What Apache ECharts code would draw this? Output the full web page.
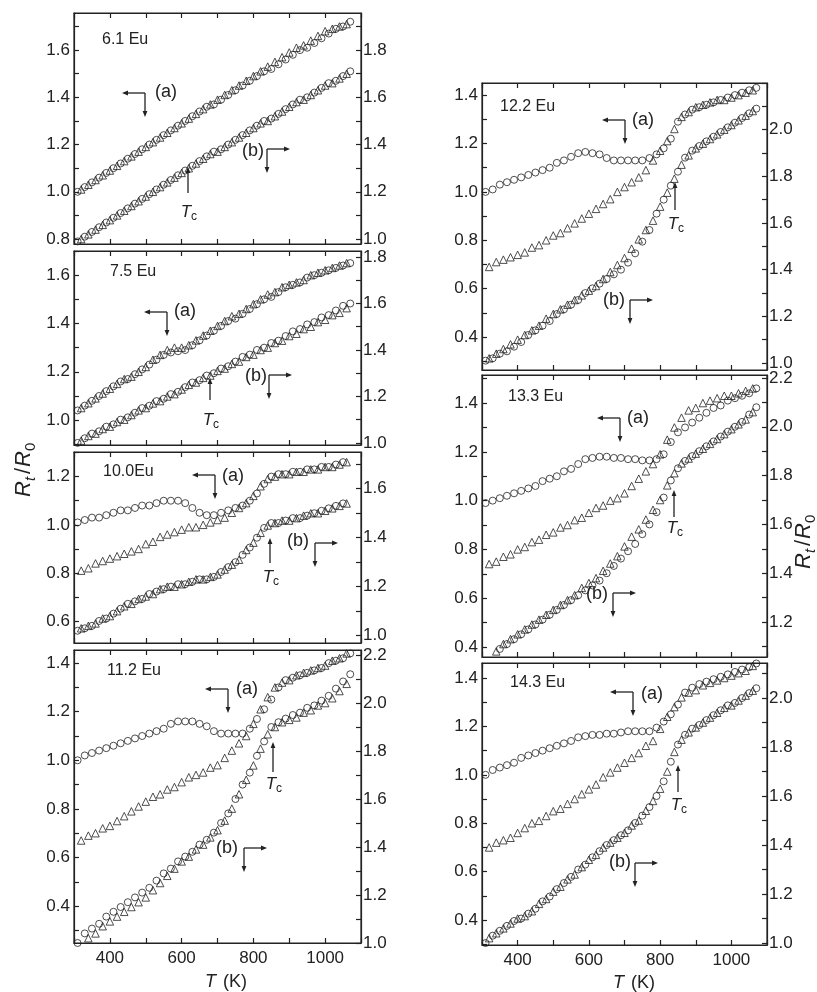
<!DOCTYPE html>
<html>
<head>
<meta charset="utf-8">
<script src="https://cdn.jsdelivr.net/npm/echarts@6.0.0/dist/echarts.min.js"></script>
<style>
  html, body { margin: 0; padding: 0; background: #fff; }
  #chart { width: 817px; height: 992px; }
</style>
</head>
<body>
<div id="chart"></div>
<script>
// Temperatures (K) of the circle and triangle readings
const T_CIRC = [310, 330, 350, 370, 390, 410, 430, 450, 470, 490, 510, 530, 550, 570, 590, 610, 630, 650, 670, 690,
  710, 730, 750, 770, 790, 810, 830, 850, 870, 890, 910, 930, 950, 970, 990, 1010, 1030, 1050, 1070];
const T_TRI = [320, 340, 360, 380, 400, 420, 440, 460, 480, 500, 520, 540, 560, 580, 600, 620, 640, 660, 680, 700,
  720, 740, 760, 780, 800, 820, 840, 860, 880, 900, 920, 940, 960, 980, 1000, 1020, 1040, 1060];

const X_TICKS = [300, 400, 500, 600, 700, 800, 900, 1000, 1100];
const X_LABELS = [400, 600, 800, 1000];

// 6.1 Eu
const P1_A_CIRC = [1.00, 1.02, 1.04, 1.06, 1.08, 1.10, 1.12, 1.14, 1.16, 1.18, 1.20, 1.22, 1.24, 1.26, 1.28, 1.30, 1.32, 1.34, 1.36, 1.37,
  1.39, 1.41, 1.43, 1.45, 1.47, 1.49, 1.51, 1.52, 1.54, 1.56, 1.58, 1.60, 1.61, 1.63, 1.65, 1.67, 1.69, 1.70, 1.72];
const P1_A_TRI = [1.01, 1.03, 1.05, 1.07, 1.09, 1.11, 1.13, 1.15, 1.17, 1.19, 1.21, 1.23, 1.25, 1.27, 1.29, 1.31, 1.33, 1.35, 1.37, 1.39,
  1.41, 1.43, 1.45, 1.47, 1.49, 1.51, 1.53, 1.55, 1.57, 1.59, 1.61, 1.62, 1.64, 1.66, 1.68, 1.69, 1.70, 1.71];
const P1_B_CIRC = [0.99, 1.01, 1.03, 1.05, 1.07, 1.09, 1.11, 1.13, 1.15, 1.17, 1.19, 1.21, 1.23, 1.25, 1.27, 1.29, 1.31, 1.33, 1.35, 1.37,
  1.38, 1.40, 1.42, 1.44, 1.46, 1.48, 1.50, 1.51, 1.53, 1.55, 1.57, 1.59, 1.60, 1.62, 1.64, 1.66, 1.67, 1.69, 1.71];
const P1_B_TRI = [1.00, 1.02, 1.04, 1.06, 1.08, 1.10, 1.12, 1.14, 1.16, 1.18, 1.20, 1.22, 1.24, 1.26, 1.28, 1.30, 1.32, 1.34, 1.36, 1.37,
  1.39, 1.41, 1.43, 1.45, 1.47, 1.49, 1.50, 1.52, 1.54, 1.56, 1.58, 1.59, 1.61, 1.63, 1.65, 1.66, 1.68, 1.70];

// 7.5 Eu
const P2_A_CIRC = [1.04, 1.06, 1.08, 1.10, 1.12, 1.14, 1.16, 1.17, 1.19, 1.21, 1.23, 1.25, 1.27, 1.28, 1.285, 1.29, 1.31, 1.33, 1.35, 1.37,
  1.39, 1.41, 1.42, 1.44, 1.46, 1.48, 1.50, 1.51, 1.53, 1.55, 1.56, 1.57, 1.59, 1.60, 1.61, 1.62, 1.63, 1.64, 1.65];
const P2_A_TRI = [1.05, 1.07, 1.09, 1.11, 1.13, 1.15, 1.17, 1.18, 1.20, 1.22, 1.25, 1.27, 1.29, 1.30, 1.30, 1.31, 1.33, 1.35, 1.37, 1.39,
  1.41, 1.43, 1.44, 1.46, 1.48, 1.50, 1.52, 1.53, 1.55, 1.56, 1.57, 1.58, 1.60, 1.61, 1.62, 1.63, 1.64, 1.65];
const P2_B_CIRC = [1.00, 1.02, 1.04, 1.05, 1.07, 1.08, 1.10, 1.11, 1.13, 1.15, 1.16, 1.18, 1.19, 1.21, 1.22, 1.24, 1.26, 1.27, 1.29, 1.30,
  1.32, 1.33, 1.35, 1.37, 1.38, 1.40, 1.41, 1.43, 1.44, 1.46, 1.48, 1.49, 1.51, 1.52, 1.54, 1.55, 1.57, 1.59, 1.60];
const P2_B_TRI = [1.01, 1.03, 1.04, 1.06, 1.07, 1.09, 1.10, 1.12, 1.14, 1.15, 1.17, 1.18, 1.20, 1.21, 1.23, 1.25, 1.26, 1.28, 1.29, 1.31,
  1.32, 1.34, 1.35, 1.37, 1.38, 1.40, 1.41, 1.43, 1.44, 1.46, 1.47, 1.49, 1.50, 1.52, 1.53, 1.55, 1.56, 1.58];

// 10.0 Eu
const P3_A_CIRC = [1.01, 1.02, 1.03, 1.03, 1.04, 1.05, 1.06, 1.06, 1.07, 1.08, 1.08, 1.09, 1.10, 1.10, 1.10, 1.09, 1.07, 1.05, 1.04, 1.04,
  1.05, 1.06, 1.07, 1.08, 1.10, 1.13, 1.17, 1.20, 1.21, 1.21, 1.22, 1.22, 1.23, 1.23, 1.24, 1.24, 1.25, 1.26, null];
const P3_A_TRI = [0.81, 0.82, 0.84, 0.85, 0.86, 0.87, 0.88, 0.89, 0.90, 0.92, 0.93, 0.95, 0.96, 0.97, 0.98, 0.99, 0.99, 1.00, 1.01, 1.02,
  1.03, 1.05, 1.07, 1.09, 1.12, 1.16, 1.19, 1.20, 1.21, 1.21, 1.22, 1.22, 1.23, 1.23, 1.24, 1.24, 1.25, 1.26];
const P3_B_CIRC = [1.02, 1.03, 1.04, 1.06, 1.07, 1.09, 1.11, 1.13, 1.14, 1.15, 1.17, 1.18, 1.19, 1.20, 1.21, 1.21, 1.22, 1.23, 1.23, 1.24,
  1.26, 1.28, 1.30, 1.33, 1.36, 1.40, 1.44, 1.46, 1.46, 1.47, 1.48, 1.48, 1.49, 1.50, 1.51, 1.52, 1.53, 1.54, null];
const P3_B_TRI = [1.03, 1.04, 1.05, 1.07, 1.08, 1.10, 1.12, 1.13, 1.15, 1.16, 1.17, 1.19, 1.20, 1.20, 1.21, 1.22, 1.23, 1.23, 1.24, 1.25,
  1.27, 1.29, 1.31, 1.35, 1.38, 1.42, 1.45, 1.46, 1.47, 1.47, 1.48, 1.49, 1.50, 1.50, 1.51, 1.52, 1.53, 1.54];

// 11.2 Eu
const P4_A_CIRC = [1.00, 1.02, 1.03, 1.04, 1.05, 1.06, 1.07, 1.08, 1.09, 1.10, 1.11, 1.12, 1.13, 1.15, 1.16, 1.16, 1.16, 1.15, 1.14, 1.12,
  1.11, 1.11, 1.11, 1.11, 1.13, 1.17, 1.21, 1.25, 1.30, 1.33, 1.34, 1.35, 1.36, 1.37, 1.38, 1.40, 1.41, 1.42, 1.44];
const P4_A_TRI = [0.67, 0.69, 0.70, 0.72, 0.73, 0.75, 0.77, 0.79, 0.81, 0.83, 0.85, 0.86, 0.88, 0.89, 0.91, 0.93, 0.94, 0.95, 0.97, 0.98,
  1.01, 1.04, 1.07, 1.10, 1.15, 1.21, 1.26, 1.30, 1.32, 1.33, 1.35, 1.36, 1.37, 1.38, 1.39, 1.41, 1.42, 1.44];
const P4_B_CIRC = [1.00, 1.04, 1.06, 1.08, 1.11, 1.13, 1.15, 1.17, 1.19, 1.21, 1.23, 1.26, 1.29, 1.31, 1.34, 1.36, 1.38, 1.41, 1.43, 1.46,
  1.50, 1.54, 1.60, 1.66, 1.71, 1.78, 1.84, 1.90, 1.92, 1.935, 1.95, 1.96, 1.98, 1.99, 2.01, 2.03, 2.06, 2.09, 2.12];
const P4_B_TRI = [0.99, 1.02, 1.04, 1.07, 1.09, 1.11, 1.13, 1.15, 1.17, 1.19, 1.22, 1.25, 1.28, 1.31, 1.34, 1.36, 1.39, 1.41, 1.44, 1.47,
  1.51, 1.56, 1.62, 1.68, 1.74, 1.81, 1.87, 1.90, 1.92, 1.93, 1.94, 1.96, 1.97, 1.99, 2.00, 2.02, 2.05, 2.08];

// 12.2 Eu
const P5_A_CIRC = [1.00, 1.01, 1.03, 1.04, 1.05, 1.06, 1.07, 1.08, 1.09, 1.10, 1.12, 1.13, 1.145, 1.16, 1.165, 1.16, 1.155, 1.14, 1.13, 1.13,
  1.13, 1.13, 1.13, 1.14, 1.155, 1.18, 1.22, 1.29, 1.32, 1.34, 1.35, 1.36, 1.37, 1.38, 1.39, 1.40, 1.41, 1.42, 1.43];
const P5_A_TRI = [0.69, 0.71, 0.72, 0.73, 0.74, 0.75, 0.77, 0.78, 0.80, 0.82, 0.83, 0.85, 0.87, 0.89, 0.91, 0.93, 0.95, 0.97, 1.00, 1.02,
  1.04, 1.06, 1.09, 1.13, 1.17, 1.21, 1.26, 1.31, 1.33, 1.35, 1.36, 1.37, 1.38, 1.38, 1.39, 1.40, 1.41, 1.42];
const P5_B_CIRC = [1.01, 1.02, 1.04, 1.05, 1.07, 1.09, 1.12, 1.14, 1.16, 1.18, 1.21, 1.23, 1.25, 1.27, 1.30, 1.32, 1.34, 1.36, 1.38, 1.40,
  1.43, 1.47, 1.52, 1.57, 1.64, 1.70, 1.76, 1.82, 1.88, 1.91, 1.93, 1.95, 1.97, 1.99, 2.01, 2.03, 2.05, 2.07, 2.09];
const P5_B_TRI = [1.02, 1.04, 1.06, 1.08, 1.10, 1.12, 1.14, 1.16, 1.19, 1.21, 1.23, 1.25, 1.27, 1.29, 1.31, 1.33, 1.36, 1.39, 1.42, 1.45,
  1.49, 1.53, 1.57, 1.61, 1.67, 1.73, 1.79, 1.85, 1.89, 1.92, 1.94, 1.96, 1.98, 2.00, 2.02, 2.04, 2.06, 2.08];

// 13.3 Eu
const P6_A_CIRC = [0.99, 1.00, 1.01, 1.02, 1.03, 1.04, 1.05, 1.06, 1.08, 1.09, 1.10, 1.12, 1.13, 1.15, 1.17, 1.175, 1.18, 1.18, 1.175, 1.175,
  1.17, 1.17, 1.165, 1.165, 1.17, 1.19, 1.24, 1.28, 1.30, 1.32, 1.34, 1.36, 1.38, 1.39, 1.41, 1.42, 1.43, 1.44, 1.46];
const P6_A_TRI = [0.74, 0.75, 0.77, 0.78, 0.80, 0.81, 0.83, 0.84, 0.86, 0.87, 0.89, 0.90, 0.92, 0.93, 0.95, 0.97, 0.98, 1.00, 1.01, 1.03,
  1.06, 1.09, 1.12, 1.15, 1.19, 1.25, 1.30, 1.34, 1.37, 1.38, 1.40, 1.41, 1.42, 1.43, 1.43, 1.44, 1.45, 1.46];
const P6_B_CIRC = [1.01, 1.05, 1.09, 1.11, 1.13, 1.15, 1.17, 1.19, 1.21, 1.23, 1.25, 1.27, 1.29, 1.31, 1.33, 1.35, 1.37, 1.40, 1.43, 1.46,
  1.49, 1.52, 1.56, 1.60, 1.65, 1.71, 1.78, 1.83, 1.86, 1.88, 1.90, 1.92, 1.94, 1.96, 1.98, 2.00, 2.02, 2.05, 2.08];
const P6_B_TRI = [1.04, 1.08, 1.11, 1.13, 1.15, 1.17, 1.19, 1.21, 1.23, 1.25, 1.27, 1.29, 1.31, 1.34, 1.36, 1.38, 1.41, 1.44, 1.47, 1.51,
  1.55, 1.58, 1.62, 1.66, 1.70, 1.76, 1.81, 1.85, 1.87, 1.89, 1.91, 1.93, 1.95, 1.97, 1.99, 2.01, 2.03, 2.06];

// 14.3 Eu
const P7_A_CIRC = [1.00, 1.02, 1.03, 1.04, 1.05, 1.07, 1.08, 1.09, 1.10, 1.11, 1.12, 1.13, 1.14, 1.155, 1.16, 1.165, 1.165, 1.17, 1.17, 1.175,
  1.18, 1.18, 1.18, 1.18, 1.195, 1.22, 1.25, 1.29, 1.34, 1.36, 1.375, 1.385, 1.395, 1.405, 1.415, 1.425, 1.435, 1.445, 1.46];
const P7_A_TRI = [0.70, 0.72, 0.73, 0.74, 0.76, 0.78, 0.80, 0.81, 0.83, 0.85, 0.86, 0.88, 0.90, 0.92, 0.94, 0.96, 0.99, 1.01, 1.03, 1.05,
  1.07, 1.09, 1.12, 1.14, 1.19, 1.24, 1.28, 1.32, 1.34, 1.35, 1.37, 1.38, 1.39, 1.40, 1.41, 1.42, 1.43, 1.45];
const P7_B_CIRC = [1.00, 1.03, 1.05, 1.07, 1.09, 1.10, 1.12, 1.14, 1.17, 1.19, 1.22, 1.245, 1.27, 1.30, 1.32, 1.35, 1.375, 1.40, 1.42, 1.44,
  1.46, 1.49, 1.52, 1.555, 1.60, 1.66, 1.74, 1.81, 1.85, 1.875, 1.89, 1.91, 1.93, 1.95, 1.97, 1.98, 2.00, 2.02, 2.04];
const P7_B_TRI = [1.02, 1.04, 1.06, 1.08, 1.10, 1.11, 1.13, 1.16, 1.18, 1.21, 1.23, 1.26, 1.28, 1.31, 1.34, 1.36, 1.39, 1.41, 1.43, 1.45,
  1.48, 1.50, 1.54, 1.58, 1.63, 1.70, 1.78, 1.83, 1.86, 1.88, 1.90, 1.92, 1.94, 1.96, 1.97, 1.99, 2.01, 2.03];

// y tick labels, left (a) and right (b) axes
const P1_YL = [0.8, 1.0, 1.2, 1.4, 1.6], P1_YR = [1.0, 1.2, 1.4, 1.6, 1.8];
const P2_YL = [1.0, 1.2, 1.4, 1.6], P2_YR = [1.0, 1.2, 1.4, 1.6, 1.8];
const P3_YL = [0.6, 0.8, 1.0, 1.2], P3_YR = [1.0, 1.2, 1.4, 1.6];
const P4_YL = [0.4, 0.6, 0.8, 1.0, 1.2, 1.4], P4_YR = [1.0, 1.2, 1.4, 1.6, 1.8, 2.0, 2.2];
const P5_YL = [0.4, 0.6, 0.8, 1.0, 1.2, 1.4], P5_YR = [1.0, 1.2, 1.4, 1.6, 1.8, 2.0];
const P6_YL = [0.4, 0.6, 0.8, 1.0, 1.2, 1.4], P6_YR = [1.2, 1.4, 1.6, 1.8, 2.0, 2.2];
const P7_YL = [0.4, 0.6, 0.8, 1.0, 1.2, 1.4], P7_YR = [1.0, 1.2, 1.4, 1.6, 1.8, 2.0];

const INK = '#222';
const FONT = '"Liberation Sans", Arial, sans-serif';

const panels = [
  { name: '6.1 Eu', box: [74, 13, 287, 231], yl: [0.779, 1.757], yr: [0.979, 1.957], ll: P1_YL, lr: P1_YR, xl: false,
    data: [P1_A_CIRC, P1_A_TRI, P1_B_CIRC, P1_B_TRI] },
  { name: '7.5 Eu', box: [74, 251, 287, 194], yl: [0.897, 1.70], yr: [0.991, 1.826], ll: P2_YL, lr: P2_YR, xl: false,
    data: [P2_A_CIRC, P2_A_TRI, P2_B_CIRC, P2_B_TRI] },
  { name: '10.0Eu', box: [74, 452, 287, 191], yl: [0.51, 1.302], yr: [0.97, 1.75], ll: P3_YL, lr: P3_YR, xl: false,
    data: [P3_A_CIRC, P3_A_TRI, P3_B_CIRC, P3_B_TRI] },
  { name: '11.2 Eu', box: [74, 650, 287, 293], yl: [0.248, 1.454], yr: [1.0, 2.221], ll: P4_YL, lr: P4_YR, xl: true,
    data: [P4_A_CIRC, P4_A_TRI, P4_B_CIRC, P4_B_TRI] },
  { name: '12.2 Eu', box: [482, 83, 285, 287], yl: [0.264, 1.45], yr: [0.97, 2.2], ll: P5_YL, lr: P5_YR, xl: false,
    data: [P5_A_CIRC, P5_A_TRI, P5_B_CIRC, P5_B_TRI] },
  { name: '13.3 Eu', box: [482, 375, 285, 282], yl: [0.359, 1.515], yr: [1.057, 2.212], ll: P6_YL, lr: P6_YR, xl: false,
    data: [P6_A_CIRC, P6_A_TRI, P6_B_CIRC, P6_B_TRI] },
  { name: '14.3 Eu', box: [482, 663, 285, 282], yl: [0.297, 1.462], yr: [0.992, 2.143], ll: P7_YL, lr: P7_YR, xl: true,
    data: [P7_A_CIRC, P7_A_TRI, P7_B_CIRC, P7_B_TRI] }
];

// annotation placement (pixels): panel tag, (a) key corner + label, (b) key corner + label, Tc arrow
const TAGS = [[102, 40], [110, 272], [103, 472], [107, 671], [500, 107], [508, 397], [510, 683]];
const A_KEYS = [[145, 93, 166, 92], [167, 312, 185, 311], [215, 475, 233, 476], [228, 689, 247, 689],
  [625, 120, 643, 120], [620, 418, 638, 418], [633, 692, 652, 694]];
const B_KEYS = [[267, 149, 253, 151], [269, 375, 256, 376], [315, 543, 298, 541], [244, 848, 227, 848],
  [630, 300, 614, 300], [613, 593, 597, 594], [635, 863, 620, 862]];
const TC_MARKS = [[188, 193, 167, 212], [210, 400, 378, 420], [270, 563, 538, 577], [273, 772, 742, 784],
  [675, 210, 182, 224], [674, 517, 490, 528], [678, 792, 765, 805]];

function tenths(range) {
  const out = [];
  for (let k = Math.ceil(range[0] * 10 - 1e-6); k <= Math.floor(range[1] * 10 + 1e-6); k++) out.push(k / 10);
  return out;
}

function pair(xs, ys) {
  return xs.map((x, i) => [x, ys[i]]).filter(p => p[1] != null);
}

const lineStyle = { color: INK, width: 1.2 };

function xAxis(gi, pos, labels) {
  return {
    type: 'value', gridIndex: gi, position: pos, min: 300, max: 1100,
    axisLine: { show: true, onZero: false, lineStyle },
    axisTick: { show: true, inside: true, length: 5, customValues: X_TICKS, lineStyle },
    axisLabel: {
      show: labels, customValues: X_LABELS, formatter: v => String(v),
      color: INK, fontSize: 17, fontFamily: FONT, margin: 7
    },
    splitLine: { show: false }
  };
}

function yAxis(gi, pos, range, labels) {
  return {
    type: 'value', gridIndex: gi, position: pos, min: range[0], max: range[1],
    axisLine: { show: true, onZero: false, lineStyle },
    axisTick: { show: true, inside: true, length: 5, customValues: tenths(range), lineStyle },
    axisLabel: {
      show: true, customValues: labels, formatter: v => v.toFixed(1),
      color: INK, fontSize: 17, fontFamily: FONT, margin: pos === 'left' ? 4 : 2
    },
    splitLine: { show: false }
  };
}

function scatter(xi, yi, ts, vs, sym) {
  return {
    type: 'scatter', xAxisIndex: xi, yAxisIndex: yi, symbol: sym,
    symbolSize: sym === 'circle' ? 7 : 7.5, data: pair(ts, vs), clip: true, silent: true,
    itemStyle: { color: 'rgba(0,0,0,0)', borderColor: INK, borderWidth: 1 }
  };
}

const grids = [], xAxes = [], yAxes = [], series = [];
panels.forEach((p, i) => {
  const [left, top, width, height] = p.box;
  grids.push({ left, top, width, height, show: true, borderColor: INK, borderWidth: 1.2, outerBoundsMode: 'none' });
  xAxes.push(xAxis(i, 'bottom', p.xl), xAxis(i, 'top', false));
  yAxes.push(yAxis(i, 'left', p.yl, p.ll), yAxis(i, 'right', p.yr, p.lr));
  const [ac, at, bc, bt] = p.data;
  series.push(
    scatter(2 * i, 2 * i, T_CIRC, ac, 'circle'),
    scatter(2 * i, 2 * i, T_TRI, at, 'triangle'),
    scatter(2 * i, 2 * i + 1, T_CIRC, bc, 'circle'),
    scatter(2 * i, 2 * i + 1, T_TRI, bt, 'triangle')
  );
});

// --- annotation helpers ---
function text(str, x, y, size, align, italic) {
  return {
    type: 'text', x, y, silent: true,
    style: {
      text: str, fill: INK, font: (italic ? 'italic ' : '') + size + 'px ' + FONT,
      textAlign: align, textVerticalAlign: 'middle', align, verticalAlign: 'middle'
    }
  };
}

function arrow(x1, y1, x2, y2) {
  const a = Math.atan2(y2 - y1, x2 - x1), L = 6, W = 2.4;
  const bx = x2 - L * Math.cos(a), by = y2 - L * Math.sin(a);
  const px = -Math.sin(a) * W, py = Math.cos(a) * W;
  return [
    { type: 'line', silent: true, shape: { x1, y1, x2: bx, y2: by }, style: { stroke: INK, lineWidth: 1.3 } },
    { type: 'polygon', silent: true, shape: { points: [[x2, y2], [bx + px, by + py], [bx - px, by - py]] }, style: { fill: INK } }
  ];
}

const gfx = [];
panels.forEach((p, i) => {
  const [tx, ty] = TAGS[i];
  gfx.push(text(p.name, tx, ty, 16, 'left'));
  const [ax, ay, alx, aly] = A_KEYS[i];
  gfx.push(...arrow(ax, ay, ax - 23, ay), ...arrow(ax, ay, ax, ay + 24), text('(a)', alx, aly, 18, 'center'));
  const [bx, by, blx, bly] = B_KEYS[i];
  gfx.push(...arrow(bx, by, bx + 23, by), ...arrow(bx, by, bx, by + 24), text('(b)', blx, bly, 18, 'center'));
  const [cx, cy0, cy1, cly] = TC_MARKS[i];
  gfx.push(...arrow(cx, cy0, cx, cy1), text('T', cx - 2, cly, 17, 'center', true), text('c', cx + 6, cly + 5, 12, 'center'));
});

// axis titles
function ratioTitle(x, y) {
  return {
    type: 'group', x, y, rotation: Math.PI / 2, silent: true,
    children: [
      text('R', -31, 0, 22, 'left', true),
      text('t', -15, 7, 15, 'left', true),
      text('/', -8, 0, 22, 'left'),
      text('R', -1, 0, 22, 'left', true),
      text('0', 15, 7, 15, 'left')
    ]
  };
}
gfx.push(ratioTitle(24, 466), ratioTitle(804, 538));
gfx.push(text('T', 205, 982, 18, 'left', true), text('(K)', 223, 982, 18, 'left'));
gfx.push(text('T', 613, 983, 18, 'left', true), text('(K)', 631, 983, 18, 'left'));

const chart = echarts.init(document.getElementById('chart'), null, { renderer: 'canvas' });
chart.setOption({
  animation: false,
  backgroundColor: '#fff',
  grid: grids,
  xAxis: xAxes,
  yAxis: yAxes,
  series,
  graphic: { elements: gfx }
});
</script>
</body>
</html>
